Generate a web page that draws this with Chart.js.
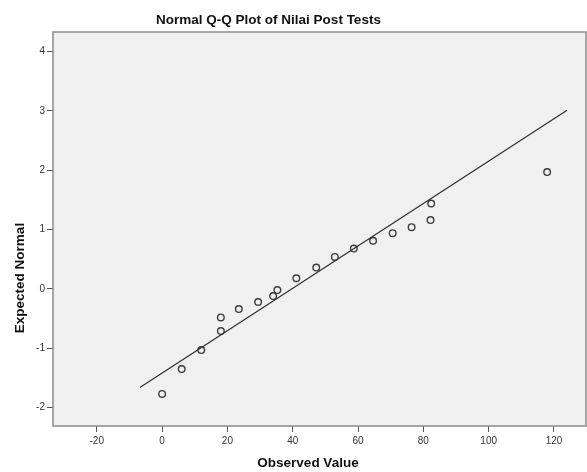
<!DOCTYPE html>
<html lang="en">
<head>
    <meta charset="UTF-8">
    <title>Normal Q-Q Plot of Nilai Post Tests</title>
    <script src="https://cdn.jsdelivr.net/npm/chart.js"></script>
    <style>
        html, body { margin: 0; padding: 0; background: #fff; overflow: hidden; }
        #wrap { position: relative; width: 587px; height: 472px; }
        .lbl { position: absolute; font-family: Arial, "Liberation Sans", sans-serif; font-weight: bold; color: #111; white-space: nowrap; text-align: center; }
        #title { left: 0; width: 537px; top: 12px; font-size: 13.5px; line-height: 16px; }
        #xTitle { left: 208px; width: 200px; top: 455px; font-size: 13.5px; line-height: 16px; }
        #yTitle { left: -80px; width: 200px; top: 270px; font-size: 13.5px; line-height: 16px; transform: rotate(-90deg); }
    </style>
</head>
<body>
    <div id="wrap">
        <canvas id="qqChart" width="587" height="472"></canvas>
        <div class="lbl" id="title">Normal Q-Q Plot of Nilai Post Tests</div>
        <div class="lbl" id="yTitle">Expected Normal</div>
        <div class="lbl" id="xTitle">Observed Value</div>
    </div>
    <script>
        // values
        const observed = [0, 6, 12, 18, 18, 23.5, 29.4, 34, 35.3, 41.1, 47.2, 52.9, 58.7, 64.6, 70.6, 76.4, 82.2, 82.4, 117.9];
        const expected = [-1.77, -1.35, -1.03, -0.71, -0.48, -0.34, -0.22, -0.12, -0.02, 0.18, 0.36, 0.54, 0.68, 0.81, 0.94, 1.04, 1.16, 1.44, 1.97];

        // reference line end points
        const lineX = [-6.8, 124];
        const lineY = [-1.66, 3.01];

        const xTicks = [-20, 0, 20, 40, 60, 80, 100, 120];
        const yTicks = [-2, -1, 0, 1, 2, 3, 4];

        const plotFrame = {
            id: 'plotFrame',
            beforeDraw(chart) {
                const a = chart.chartArea;
                const ctx = chart.ctx;
                ctx.save();
                ctx.fillStyle = '#f0f0f0';
                ctx.fillRect(a.left, a.top, a.right - a.left, a.bottom - a.top);
                ctx.restore();
            },
            afterDraw(chart) {
                const a = chart.chartArea;
                const ctx = chart.ctx;
                ctx.save();
                ctx.strokeStyle = '#8c8c8c';
                ctx.lineWidth = 1.5;
                ctx.strokeRect(a.left, a.top, a.right - a.left, a.bottom - a.top);
                ctx.restore();
            }
        };

        const tickFont = { family: 'Arial, "Liberation Sans", sans-serif', size: 10 };

        const ctx = document.getElementById('qqChart').getContext('2d');
        new Chart(ctx, {
            type: 'scatter',
            data: {
                datasets: [{
                    label: 'Reference',
                    data: lineX.map((x, i) => ({ x: x, y: lineY[i] })),
                    showLine: true,
                    borderColor: '#2e2e2e',
                    borderWidth: 1.2,
                    pointRadius: 0
                }, {
                    label: 'Nilai Post Tests',
                    data: observed.map((x, i) => ({ x: x, y: expected[i] })),
                    backgroundColor: 'rgba(0,0,0,0)',
                    borderColor: '#3c3c3c',
                    pointBorderWidth: 1.4,
                    pointRadius: 3.3
                }]
            },
            options: {
                responsive: false,
                animation: false,
                layout: { autoPadding: false, padding: { left: 0, top: 32, right: 1, bottom: 0 } },
                scales: {
                    x: {
                        type: 'linear',
                        min: -33.4,
                        max: 129.8,
                        afterFit: scale => {
                            scale.height = 46;
                            scale.paddingLeft = 0;
                            scale.paddingRight = 0;
                        },
                        afterBuildTicks: scale => { scale.ticks = xTicks.map(v => ({ value: v })); },
                        grid: { drawOnChartArea: false, drawTicks: true, tickLength: 6, color: '#555' },
                        border: { display: false },
                        ticks: { font: tickFont, color: '#333', padding: 3, maxRotation: 0 }
                    },
                    y: {
                        type: 'linear',
                        min: -2.31,
                        max: 4.33,
                        afterFit: scale => {
                            scale.width = 53;
                            scale.paddingTop = 0;
                            scale.paddingBottom = 0;
                        },
                        afterBuildTicks: scale => { scale.ticks = yTicks.map(v => ({ value: v })); },
                        grid: { drawOnChartArea: false, drawTicks: true, tickLength: 6, color: '#555' },
                        border: { display: false },
                        ticks: { font: tickFont, color: '#333', padding: 2 }
                    }
                },
                plugins: {
                    legend: { display: false },
                    tooltip: { enabled: false }
                }
            },
            plugins: [plotFrame]
        });
    </script>
</body>
</html>
